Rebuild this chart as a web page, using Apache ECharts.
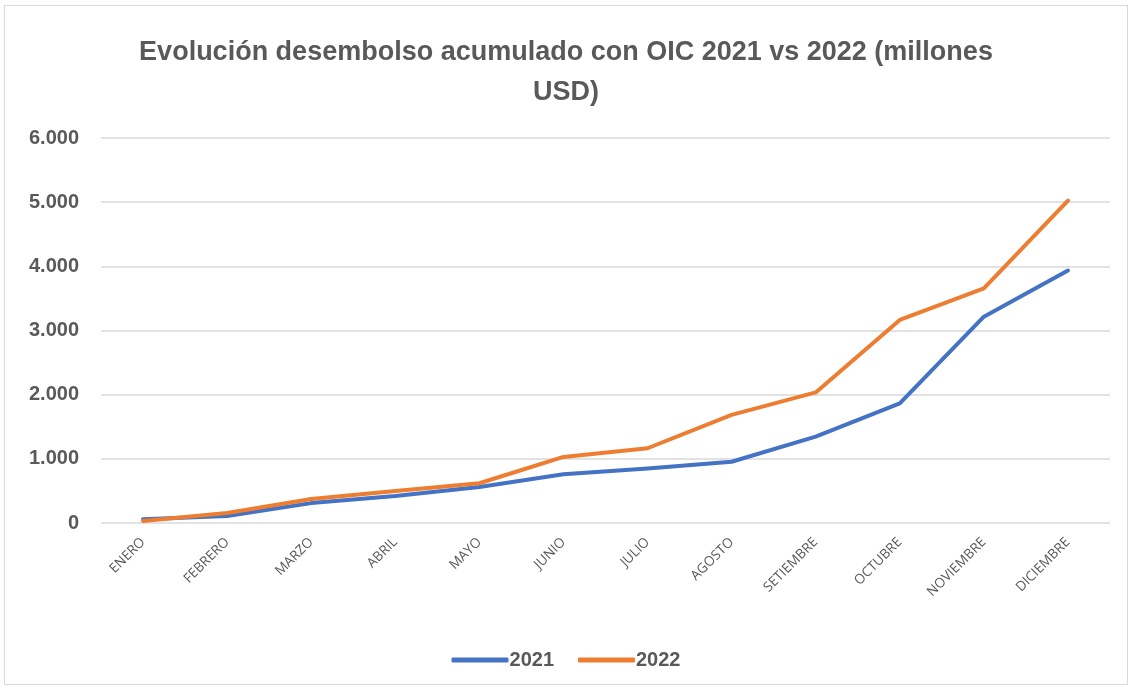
<!DOCTYPE html>
<html>
<head>
	<meta charset="utf-8">
	<title>Evolución desembolso acumulado</title>
	<style>
		html, body {
			margin: 0;
			padding: 0;
			background: #fff;
		}

		#box {
			position: absolute;
			left: 4px;
			top: 5px;
			width: 1124px;
			height: 680px;
			border: 1px solid #d9d9d9;
			box-sizing: border-box;
		}

		#chart {
			position: absolute;
			left: 0;
			top: 0;
			width: 1132px;
			height: 689px;
		}
	</style>
</head>
<body>
	<div id="box"></div>
	<div id="chart"></div>
	<script src="https://cdn.jsdelivr.net/npm/echarts@6/dist/echarts.min.js"></script>
	<script type="text/javascript">
		// meses
		var meses = ['ENERO', 'FEBRERO', 'MARZO', 'ABRIL', 'MAYO', 'JUNIO', 'JULIO',
			'AGOSTO', 'SETIEMBRE', 'OCTUBRE', 'NOVIEMBRE', 'DICIEMBRE'];
		// desembolso acumulado (millones USD)
		var datos2021 = [60, 110, 310, 420, 560, 760, 850, 955, 1345, 1865, 3215, 3935];
		var datos2022 = [30, 155, 375, 500, 620, 1030, 1165, 1685, 2035, 3165, 3655, 5025];

		var gris = '#595959';

		function miles(v) {
			return String(v).replace(/\B(?=(\d{3})+(?!\d))/g, '.');
		}

		var myChart = echarts.init(document.getElementById('chart'));
		var option = {
			animation: false,
			title: {
				text: 'Evolución desembolso acumulado con OIC 2021 vs 2022 (millones\nUSD)',
				left: 'center',
				top: 28,
				textStyle: {
					fontFamily: 'Liberation Sans',
					fontSize: 27,
					fontWeight: 'bold',
					color: gris,
					lineHeight: 40
				}
			},
			legend: {
				bottom: 14,
				left: 'center',
				itemWidth: 57,
				itemHeight: 5,
				itemGap: 24,
				icon: 'roundRect',
				textStyle: {
					fontFamily: 'Liberation Sans',
					fontSize: 20,
					fontWeight: 'bold',
					color: gris,
					padding: [0, 0, 0, -4]
				},
				data: ['2021', '2022']
			},
			grid: {
				left: 101,
				right: 22,
				top: 138,
				bottom: 166
			},
			xAxis: {
				type: 'category',
				data: meses,
				boundaryGap: true,
				axisLine: { show: false },
				axisTick: { show: false },
				axisLabel: {
					rotate: 45,
					margin: 17,
					interval: 0,
					fontFamily: 'Open Sans',
					fontSize: 13.5,
					color: gris
				}
			},
			yAxis: {
				type: 'value',
				min: 0,
				max: 6000,
				interval: 1000,
				axisLabel: {
					margin: 22,
					fontFamily: 'Liberation Sans',
					fontSize: 20,
					fontWeight: 'bold',
					color: gris,
					formatter: miles
				},
				splitLine: {
					lineStyle: { color: '#d9d9d9', width: 1.5 }
				}
			},
			series: [{
				name: '2021',
				type: 'line',
				data: datos2021,
				showSymbol: false,
				symbol: 'none',
				lineStyle: { color: '#4472C4', width: 4, cap: 'round', join: 'round' },
				itemStyle: { color: '#4472C4' }
			}, {
				name: '2022',
				type: 'line',
				data: datos2022,
				showSymbol: false,
				symbol: 'none',
				lineStyle: { color: '#ED7D31', width: 4, cap: 'round', join: 'round' },
				itemStyle: { color: '#ED7D31' }
			}]
		};
		myChart.setOption(option);
	</script>
</body>
</html>
